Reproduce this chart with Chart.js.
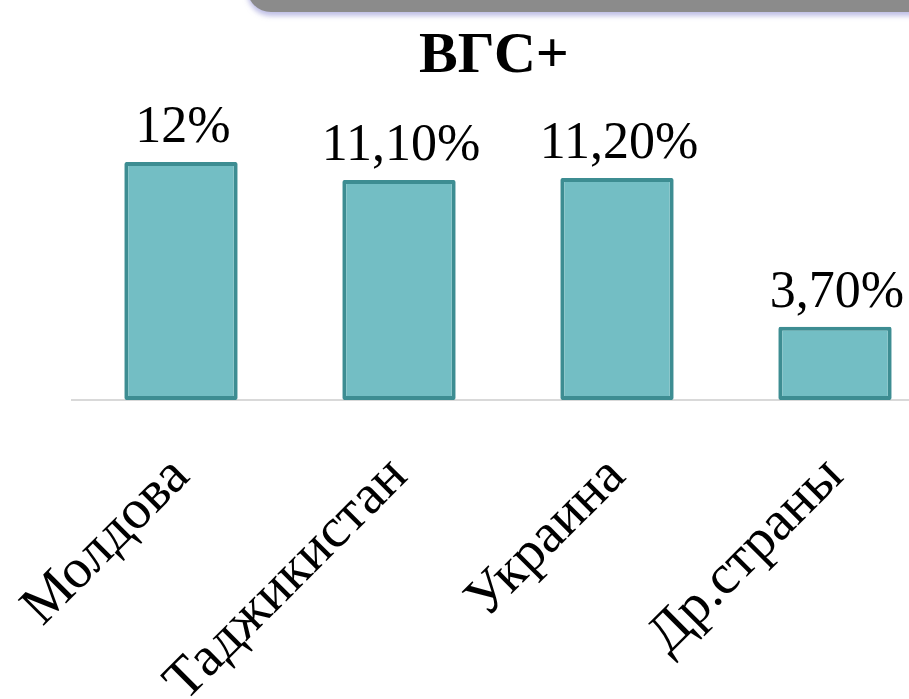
<!DOCTYPE html>
<html>
<head>
<meta charset="utf-8">
<script src="https://cdn.jsdelivr.net/npm/chart.js@4"></script>
<style>
  html, body { margin: 0; padding: 0; background: #fff; }
  #wrap { position: relative; width: 909px; height: 699px; overflow: hidden; }
  #band { position: absolute; left: 247px; top: -40px; width: 720px; height: 52px;
          border-radius: 24px; background: #8b8b8b;
          box-shadow: 0 4px 5px rgba(140,140,210,0.55); }
  #cv { position: absolute; left: 0; top: 0; }
</style>
</head>
<body>
<div id="wrap">
  <div id="band"></div>
  <canvas id="cv" width="945" height="699" style="width:945px;height:699px"></canvas>
</div>
<script>
const categories = ['Молдова', 'Таджикистан', 'Украина', 'Др.страны'];
const values = [12, 11.1, 11.2, 3.7];
const valueLabels = ['12%', '11,10%', '11,20%', '3,70%'];
const chartTitle = 'ВГС+';

const valueLabelPlugin = {
  id: 'valueLabels',
  afterDatasetsDraw(chart) {
    const ctx = chart.ctx;
    const meta = chart.getDatasetMeta(0);
    ctx.save();
    ctx.font = '52px "Liberation Serif"';
    ctx.fillStyle = '#000';
    ctx.textAlign = 'center';
    ctx.textBaseline = 'alphabetic';
    meta.data.forEach((bar, i) => {
      ctx.fillText(valueLabels[i], bar.x + 2, bar.y - 20);
    });
    ctx.restore();
  }
};

new Chart(document.getElementById('cv'), {
  type: 'bar',
  data: {
    labels: categories,
    datasets: [{
      data: values,
      backgroundColor: '#73bec4',
      borderColor: '#3d8d92',
      borderWidth: 4,
      borderSkipped: false,
      borderRadius: 2,
      barPercentage: 0.52,
      categoryPercentage: 1.0
    }]
  },
  options: {
    responsive: false,
    animation: false,
    devicePixelRatio: 1,
    layout: { padding: { left: 44, right: 1, top: 0, bottom: 0 } },
    plugins: {
      legend: { display: false },
      tooltip: { enabled: false },
      title: {
        display: true,
        text: chartTitle,
        color: '#000',
        font: { family: '"Liberation Serif"', size: 58, weight: 'bold', lineHeight: 1.2 },
        padding: { top: 22, bottom: 11 }
      }
    },
    scales: {
      x: {
        grid: { display: false, drawTicks: false },
        border: { display: true, color: '#d9d9d9', width: 2 },
        ticks: {
          color: '#000',
          font: { family: '"Liberation Serif"', size: 56 },
          minRotation: 45,
          maxRotation: 45,
          padding: 44,
          autoSkip: false
        },
        afterFit(s) { s.height = 299; s.paddingLeft = 0; s.paddingRight = 0; }
      },
      y: {
        min: 0,
        max: 15,
        grid: { display: false },
        border: { display: false },
        ticks: { display: false },
        afterFit(s) { s.width = 28; }
      }
    }
  },
  plugins: [valueLabelPlugin]
});
</script>
</body>
</html>
